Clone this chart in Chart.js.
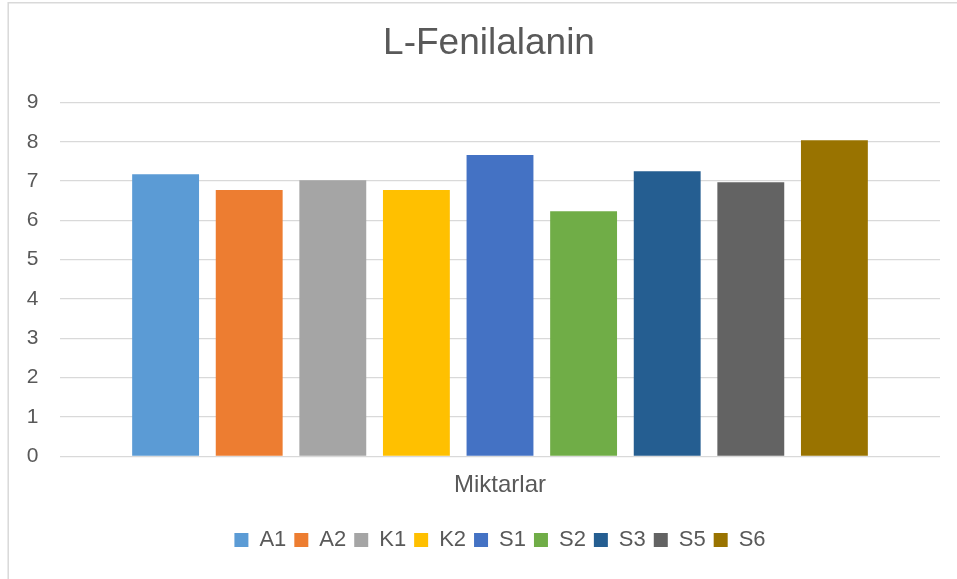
<!DOCTYPE html>
<html>
<head>
<meta charset="utf-8">
<script src="https://cdn.jsdelivr.net/npm/chart.js@4/dist/chart.umd.min.js"></script>
<style>
  html, body { margin: 0; padding: 0; background: #fff; }
  #wrap { width: 957px; height: 579px; }
</style>
</head>
<body>
<div id="wrap"><canvas id="chart" width="957" height="579"></canvas></div>
<script>
// data
const categories = ["Miktarlar"];
const seriesNames = ["A1", "A2", "K1", "K2", "S1", "S2", "S3", "S5", "S6"];
const seriesValues = [7.17, 6.77, 7.02, 6.77, 7.66, 6.23, 7.25, 6.97, 8.04];
const seriesColors = ["#5B9BD5", "#ED7D31", "#A5A5A5", "#FFC000", "#4472C4", "#70AD47", "#255E91", "#636363", "#997300"];
const yTicks = ["0", "1", "2", "3", "4", "5", "6", "7", "8", "9"];

const textColor = "#595959";
const gridColor = "#d9d9d9";
const fontFamily = "'Liberation Sans', Arial, sans-serif";

// light frame on the top and left edge, as in the source image
const framePlugin = {
  id: "frame",
  beforeDraw(chart) {
    const c = chart.ctx;
    c.save();
    c.fillStyle = "#fff";
    c.fillRect(0, 0, chart.width, chart.height);
    c.strokeStyle = gridColor;
    c.lineWidth = 1.5;
    c.beginPath();
    c.moveTo(8.2, chart.height);
    c.lineTo(8.2, 2.7);
    c.lineTo(chart.width, 2.7);
    c.stroke();
    c.restore();
  }
};

const datasets = seriesNames.map((name, i) => ({
  label: name,
  data: [seriesValues[i]],
  backgroundColor: seriesColors[i],
  borderWidth: 0,
  categoryPercentage: 0.855,
  barPercentage: 0.8
}));

new Chart(document.getElementById("chart").getContext("2d"), {
  type: "bar",
  data: { labels: categories, datasets },
  plugins: [framePlugin],
  options: {
    responsive: false,
    animation: false,
    layout: { padding: { left: 38, right: 17, top: 0, bottom: 18 } },
    plugins: {
      title: {
        display: true,
        text: "L-Fenilalanin",
        color: textColor,
        font: { family: fontFamily, size: 37, weight: "normal" },
        padding: { top: 22, bottom: 36 }
      },
      legend: {
        position: "bottom",
        fullSize: false,
        labels: {
          color: textColor,
          font: { family: fontFamily, size: 22 },
          boxWidth: 14,
          boxHeight: 14,
          padding: 8
        }
      },
      tooltip: { enabled: false }
    },
    scales: {
      x: {
        grid: { display: false, drawTicks: false },
        border: { display: false },
        ticks: {
          color: textColor,
          padding: 15,
          font: { family: fontFamily, size: 24 }
        },
        afterFit: scale => { scale.height = 64.7; }
      },
      y: {
        min: 0,
        max: yTicks.length - 1,
        grid: { color: gridColor, lineWidth: 1.3, drawTicks: false },
        border: { display: false },
        ticks: {
          stepSize: 1,
          mirror: true,
          padding: -33.3,
          color: textColor,
          font: { family: fontFamily, size: 21 },
          callback: v => yTicks[v]
        },
        afterFit: scale => { scale.width = 22; }
      }
    }
  }
});
</script>
</body>
</html>
